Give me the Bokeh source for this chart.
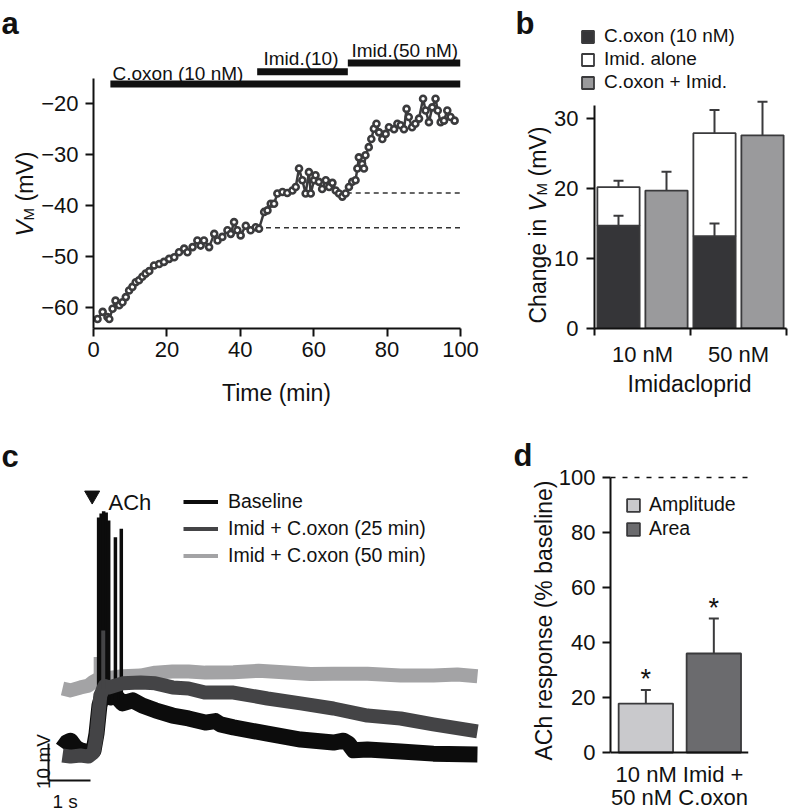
from bokeh.plotting import figure
from bokeh.layouts import row, column
from bokeh.models import (Range1d, FixedTicker, Label, Legend, LegendItem,
                          Whisker, TeeHead, Span, ColumnDataSource)
from bokeh.embed import file_html
from bokeh.resources import INLINE

FONT = "Liberation Sans"
INK = "#111111"
EDGE = "#3a3a3c"
W, H = 788, 811
NAN = float("nan")

# ---------------- panel a data ----------------
a_time = [1.1, 2.5, 3.8, 4.3, 5.2, 6.0, 7.0, 7.9, 8.8, 9.7, 10.6, 11.5, 12.4, 13.3, 14.2,
          15.2, 16.5, 17.9, 19.2, 20.6, 22.0, 23.3, 24.7, 25.6, 27.0, 28.3, 29.2, 30.1,
          31.5, 32.9, 33.8, 35.1, 36.5, 37.4, 38.3, 39.2, 40.1, 41.5, 42.8, 44.2, 45.1,
          46.5, 47.4, 48.3, 49.2, 50.1, 51.5, 52.8, 54.2, 55.1, 56.0, 56.9, 57.8, 58.7,
          59.2, 60.1, 60.5, 61.4, 62.3, 63.3, 64.2, 65.1, 66.0, 66.9, 67.8, 68.7, 69.6,
          70.5, 71.4, 71.9, 72.3, 73.2, 73.7, 74.1, 75.0, 75.7, 76.4, 77.1, 77.8, 78.7,
          79.6, 80.5, 81.9, 82.8, 83.7, 84.6, 85.3, 85.9, 86.8, 87.7, 88.7, 89.8, 90.5,
          91.4, 92.3, 93.2, 93.8, 94.6, 95.5, 96.4, 97.3, 98.4]
a_vm = [-62.2, -60.8, -61.8, -62.2, -60.2, -58.6, -59.5, -58.9, -57.9, -56.6, -55.9, -55.0,
        -54.6, -53.9, -53.3, -52.8, -51.7, -51.4, -51.0, -50.4, -50.1, -49.1, -48.4, -49.1,
        -48.1, -46.8, -47.8, -46.8, -48.1, -45.5, -46.8, -46.1, -44.8, -45.5, -43.2, -44.8,
        -45.8, -43.9, -44.8, -44.2, -44.5, -41.2, -40.9, -39.6, -39.6, -37.6, -37.3, -37.5,
        -37.0, -36.3, -32.7, -35.0, -37.6, -33.4, -37.6, -35.0, -34.0, -35.3, -36.7, -35.0,
        -36.3, -35.5, -37.0, -37.6, -38.2, -37.6, -36.3, -35.3, -35.0, -32.7, -30.5, -31.8,
        -32.7, -30.1, -28.5, -26.9, -24.9, -23.9, -25.6, -26.9, -25.9, -24.6, -25.0, -23.9,
        -24.2, -25.0, -21.0, -22.6, -24.6, -23.9, -22.9, -19.0, -21.3, -23.6, -20.7, -19.0,
        -21.3, -23.6, -23.3, -21.3, -22.6, -23.3]
a_ref_start = [47.0, 69.0]
a_ref_end = [100.0, 100.0]
a_ref_level = [-44.3, -37.5]
a_drug_names = ["C.oxon (10 nM)", "Imid.(10)", "Imid.(50 nM)"]
a_drug_start = [4.6, 44.6, 69.3]
a_drug_end = [100.0, 69.3, 100.0]
a_drug_level = [-16.1, -13.7, -12.0]
a_xticks = [0, 20, 40, 60, 80, 100]
a_yticks = [-60, -50, -40, -30, -20]
a_ytick_labels = ["\u221260", "\u221250", "\u221240", "\u221230", "\u221220"]

# ---------------- panel b data ----------------
b_groups = ["10 nM", "50 nM"]
b_coxon = [14.7, 13.2]
b_coxon_err = [1.4, 1.8]
b_imid_total = [20.2, 27.9]
b_imid_err = [0.9, 3.3]
b_combined = [19.7, 27.6]
b_combined_err = [2.7, 4.8]
b_yticks = [0, 10, 20, 30]
b_series = ["C.oxon (10 nM)", "Imid. alone", "C.oxon + Imid."]
b_colors = ["#353538", "#ffffff", "#9a9a9c"]

# ---------------- panel c data (time s, mV) ----------------
c_names = ["Baseline", "Imid + C.oxon (25 min)", "Imid + C.oxon (50 min)"]
c_colors = ["#0c0c0c", "#444446", "#a3a3a5"]
c_light_t = [0.00, 0.19, 0.43, 0.62, 0.74, 0.83, 1.02, 1.43, 1.86, 2.21, 2.62, 3.00,
             3.40, 4.07, 4.67, 5.26, 5.90, 6.45, 7.26, 8.05, 8.83, 9.40, 9.88]
c_light_v = [18.1, 17.6, 18.4, 18.9, 20.0, 20.5, 20.8, 21.4, 21.6, 22.4, 22.7, 22.7,
             22.4, 22.5, 22.9, 22.5, 22.0, 22.1, 22.1, 21.6, 21.6, 21.9, 21.4]
c_dark_t = [0.00, 0.19, 0.43, 0.62, 0.74, 0.81, 0.86, 0.90, 0.95, 1.00, 1.10, 1.43, 1.86,
            2.21, 2.62, 3.00, 3.40, 4.07, 4.88, 5.67, 6.45, 7.26, 8.05, 8.83, 9.88]
c_dark_v = [0.0, -0.3, 0.0, -0.3, 0.8, 5.4, 11.4, 16.2, 17.5, 18.8, 18.4, 19.5, 19.7,
            19.5, 18.4, 18.1, 17.0, 17.0, 15.4, 14.1, 12.7, 10.8, 10.0, 8.4, 6.5]
c_base_t = [0.00, 0.10, 0.19, 0.31, 0.43, 0.62, 0.74, 0.81, 0.88, 0.95, 1.05, 1.14, 1.26,
            1.43, 1.67, 1.90, 2.21, 2.62, 3.00, 3.40, 3.64, 3.76, 4.07, 4.88, 5.67, 6.45,
            6.69, 6.81, 6.93, 7.26, 8.05, 8.83, 9.88]
c_base_v = [1.9, 3.5, 4.0, 2.2, 1.4, 0.8, 1.4, 5.9, 13.5, 16.2, 16.8, 15.7, 16.2, 14.1,
            14.9, 13.5, 12.2, 10.8, 10.0, 8.9, 9.3, 8.4, 7.6, 5.9, 4.3, 3.5, 4.0, 3.2,
            1.4, 1.6, 1.1, 0.5, 0.3]
# fast events (action potentials / artefacts) drawn as thin strokes
c_spike_t = [0.86, 0.92, 0.98, 1.04, 1.10, 1.26, 1.40]
c_spike_peak = [64.3, 65.4, 66.0, 65.7, 63.5, 59.0, 61.3]
c_spike_foot = [15.0, 15.0, 15.0, 15.0, 15.0, 15.0, 15.0]
c_dark_spike_t = [0.97]
c_dark_spike_peak = [33.8]
c_dark_spike_foot = [18.0]
c_light_spike_t = [0.79]
c_light_spike_peak = [26.6]
c_light_spike_foot = [20.0]
c_ach_t = [0.707]
c_ach_v = [70.3]
c_scale_t = [-0.333]
c_scale_v = [-6.76]
c_scale_dt = 1.0
c_scale_dv = 10.0

# ---------------- panel d data ----------------
d_series = ["Amplitude", "Area"]
d_x = [0.52, 1.52]
d_values = [17.8, 36.0]
d_err = [4.9, 12.7]
d_colors = ["#c9c9cc", "#6b6b6e"]
d_yticks = [0, 20, 40, 60, 80, 100]


def make_fig(w, h, l, r, t, b, xr, yr):
    p = figure(width=w, height=h, x_range=Range1d(*xr), y_range=Range1d(*yr),
               output_backend="svg", toolbar_location=None,
               min_border_left=l, min_border_right=r, min_border_top=t, min_border_bottom=b)
    p.outline_line_color = None
    p.grid.grid_line_color = None
    p.background_fill_color = "white"
    p.border_fill_color = "white"
    for ax in p.axis:
        ax.axis_line_width = 2
        ax.axis_line_color = INK
        ax.major_tick_line_width = 2
        ax.major_tick_line_color = INK
        ax.major_tick_out = 8
        ax.major_tick_in = 0
        ax.minor_tick_line_color = None
        ax.major_label_text_font = FONT
        ax.major_label_text_font_size = "22px"
        ax.major_label_text_color = INK
    return p


# ======================= panel a =======================
pa = make_fig(480, 400, 93, 20, 52, 72, (0, 100), (-64.06, -9.94))
pa.xaxis.ticker = FixedTicker(ticks=a_xticks)
pa.yaxis.ticker = FixedTicker(ticks=a_yticks)
pa.yaxis.major_label_overrides = {v: s for v, s in zip(a_yticks, a_ytick_labels)}
pa.yaxis.bounds = (-64.06, -15.1)
pa.yaxis.major_label_standoff = 7
pa.xaxis.major_label_standoff = 5

pa.segment(x0=a_ref_start, y0=a_ref_level, x1=a_ref_end, y1=a_ref_level,
           line_color="#333333", line_width=1.5, line_dash="5 4")
pa.line(a_time, a_vm, line_color="#3b3b3d", line_width=2.5)
pa.scatter(a_time, a_vm, marker="circle", size=6, line_color="#3b3b3d",
           line_width=2.6, fill_color="white")
pa.segment(x0=a_drug_start, y0=a_drug_level, x1=a_drug_end, y1=a_drug_level,
           line_color=INK, line_width=7, line_cap="butt")

# ======================= panel b =======================
pb = make_fig(308, 400, 114, 2, 52, 72, (0, 2.0), (0, 39.43))
xs_stack = [i + 0.25 for i in range(len(b_groups))]
xs_comb = [i + 0.75 for i in range(len(b_groups))]
edge = dict(line_color=EDGE, line_width=1.8)
pb.vbar(x=xs_stack, top=b_coxon, bottom=0, width=0.44, fill_color=b_colors[0], **edge)
pb.vbar(x=xs_stack, top=b_imid_total, bottom=b_coxon, width=0.44, fill_color=b_colors[1], **edge)
pb.vbar(x=xs_comb, top=b_combined, bottom=0, width=0.44, fill_color=b_colors[2], **edge)
for xs, vals, errs in [(xs_stack, b_coxon, b_coxon_err), (xs_stack, b_imid_total, b_imid_err),
                       (xs_comb, b_combined, b_combined_err)]:
    src = ColumnDataSource(dict(x=xs, lo=vals, hi=[v + e for v, e in zip(vals, errs)]))
    pb.add_layout(Whisker(source=src, base="x", lower="lo", upper="hi", dimension="height",
                          line_color=EDGE, line_width=2, lower_head=None,
                          upper_head=TeeHead(size=10, line_width=2, line_color=EDGE),
                          level="overlay"))
pb.yaxis.ticker = FixedTicker(ticks=b_yticks)
pb.yaxis.bounds = (0, 31.9)
pb.yaxis.major_label_standoff = 8
pb.xaxis.ticker = FixedTicker(ticks=[0.5, 1.5], minor_ticks=[0, 1, 2])
pb.xaxis.major_label_overrides = {0.5: b_groups[0], 1.5: b_groups[1]}
pb.xaxis.major_tick_line_color = None
pb.xaxis.major_tick_out = 0
pb.xaxis.minor_tick_line_color = INK
pb.xaxis.minor_tick_line_width = 2
pb.xaxis.minor_tick_out = 7
pb.xaxis.minor_tick_in = 0
pb.xaxis.major_label_standoff = 6

# ======================= panel c =======================
pc = make_fig(500, 411, 0, 0, 70, 0, (-1.476, 10.4286), (-15.14, 77.03))
pc.axis.visible = False
pc.line(c_light_t, c_light_v, line_color=c_colors[2], line_width=14, line_join="round")
pc.segment(x0=c_light_spike_t, y0=c_light_spike_foot, x1=c_light_spike_t, y1=c_light_spike_peak,
           line_color=c_colors[2], line_width=4)
pc.line(c_base_t, c_base_v, line_color=c_colors[0], line_width=16, line_join="round")
pc.segment(x0=c_spike_t, y0=c_spike_foot, x1=c_spike_t, y1=c_spike_peak,
           line_color=c_colors[0], line_width=3.5)
pc.line(c_dark_t, c_dark_v, line_color=c_colors[1], line_width=14, line_join="round")
pc.segment(x0=c_dark_spike_t, y0=c_dark_spike_foot, x1=c_dark_spike_t, y1=c_dark_spike_peak,
           line_color=c_colors[1], line_width=4)
pc.scatter(c_ach_t, c_ach_v, marker="inverted_triangle", size=15, color=INK)
pc.segment(x0=c_scale_t, y0=c_scale_v, x1=c_scale_t, y1=[v + c_scale_dv for v in c_scale_v],
           line_color=INK, line_width=2)
pc.segment(x0=c_scale_t, y0=c_scale_v, x1=[t + c_scale_dt for t in c_scale_t], y1=c_scale_v,
           line_color=INK, line_width=2)

# ======================= panel d =======================
pdd = make_fig(288, 411, 110, 40, 70, 0, (0, 2.03), (-21.45, 102.55))
pdd.xaxis.visible = False
src_d = ColumnDataSource(dict(x=d_x, top=d_values, color=d_colors,
                              hi=[v + e for v, e in zip(d_values, d_err)]))
pdd.vbar(x="x", top="top", bottom=0, width=0.8, fill_color="color", source=src_d,
         line_color=EDGE, line_width=1.8)
pdd.add_layout(Whisker(source=src_d, base="x", lower="top", upper="hi", dimension="height",
                       line_color=EDGE, line_width=2, lower_head=None,
                       upper_head=TeeHead(size=10, line_width=2, line_color=EDGE),
                       level="overlay"))
pdd.add_layout(Span(location=100, dimension="width", line_color=INK, line_width=1.5,
                    line_dash="5 7"))
pdd.add_layout(Span(location=0, dimension="width", line_color=INK, line_width=2))
for x, hi in zip(d_x, src_d.data["hi"]):
    pdd.add_layout(Label(x=x, y=hi, text="*", text_font=FONT, text_font_size="27px",
                         text_align="center", text_baseline="alphabetic", y_offset=11,
                         text_color=INK))
pdd.yaxis.ticker = FixedTicker(ticks=d_yticks)
pdd.yaxis.bounds = (0, 100)
pdd.yaxis.major_label_standoff = 7

# ======================= text overlay (page coordinates) =======================
ov = figure(width=W, height=H, x_range=Range1d(0, W), y_range=Range1d(0, H),
            output_backend="svg", toolbar_location=None, min_border=0,
            styles={"position": "absolute", "left": "0px", "top": "0px"})
ov.axis.visible = False
ov.grid.grid_line_color = None
ov.outline_line_color = None
ov.background_fill_alpha = 0
ov.border_fill_alpha = 0


def txt(px, py, text, size, align="left", baseline="alphabetic", angle=0, style="normal"):
    ov.add_layout(Label(x=px, y=H - py, text=text, text_font=FONT,
                        text_font_size=f"{size}px", text_align=align,
                        text_baseline=baseline, angle=angle, angle_units="deg",
                        text_font_style=style, text_color=INK))


# panel letters
txt(1, 23, "a", 31, style="bold")
txt(515, 23, "b", 31, style="bold")
txt(1, 456, "c", 31, style="bold")
txt(513, 455, "d", 31, style="bold")
# panel a texts
txt(112, 73, a_drug_names[0], 19)
txt(263, 58, a_drug_names[1], 19)
txt(351, 50, a_drug_names[2], 19)
txt(276, 392, "Time (min)", 23, align="center")
txt(24, 236, "V", 24, angle=90, style="italic")
txt(28, 220, "M", 15, angle=90)
txt(24, 201, "(mV)", 23, angle=90)
# panel b texts
txt(689, 383, "Imidacloprid", 23, align="center")
txt(537, 323, "Change in", 23, angle=90)
txt(537, 211, "V", 24, angle=90, style="italic")
txt(541, 195, "M", 15, angle=90)
txt(537, 176, "(mV)", 23, angle=90)
# panel c texts
txt(108, 502, "ACh", 22)
txt(43, 761, "10 mV", 19, align="center", angle=90)
txt(52, 801, "1 s", 19)
# panel d texts
txt(543, 620, "ACh response (% baseline)", 23, align="center", angle=90)
txt(679, 774, "10 nM Imid +", 22, align="center")
txt(679, 797, "50 nM C.oxon", 22, align="center")

# legends: swatch renderers carry one undefined (NaN) point so only the key is drawn
b_proxies = [ov.vbar(x=[NAN], top=[NAN], width=1, fill_color=c, line_color=EDGE, line_width=1.8)
             for c in b_colors]
ov.add_layout(Legend(items=[LegendItem(label=n, renderers=[r]) for n, r in zip(b_series, b_proxies)],
                     location=(580, H - 93), glyph_width=15, glyph_height=15, label_standoff=9,
                     label_text_font=FONT, label_text_font_size="19px", label_text_color=INK,
                     spacing=1, padding=0, margin=0, border_line_color=None,
                     background_fill_alpha=0, label_height=20))
c_proxies = [ov.line(x=[NAN, NAN], y=[NAN, NAN], line_color=c, line_width=4) for c in c_colors]
ov.add_layout(Legend(items=[LegendItem(label=n, renderers=[r]) for n, r in zip(c_names, c_proxies)],
                     location=(183, H - 567), glyph_width=35, glyph_height=15, label_standoff=10,
                     label_text_font=FONT, label_text_font_size="19.5px", label_text_color=INK,
                     spacing=4, padding=0, margin=0, border_line_color=None,
                     background_fill_alpha=0, label_height=20))
d_proxies = [ov.vbar(x=[NAN], top=[NAN], width=1, fill_color=c, line_color=EDGE, line_width=1.8)
             for c in d_colors]
ov.add_layout(Legend(items=[LegendItem(label=n, renderers=[r]) for n, r in zip(d_series, d_proxies)],
                     location=(625, H - 540), glyph_width=16, glyph_height=16, label_standoff=8,
                     label_text_font=FONT, label_text_font_size="19.5px", label_text_color=INK,
                     spacing=1, padding=0, margin=0, border_line_color=None,
                     background_fill_alpha=0, label_height=20))

layout = column(row(pa, pb), row(pc, pdd), ov)
open("out.html", "w").write(file_html(layout, INLINE))
